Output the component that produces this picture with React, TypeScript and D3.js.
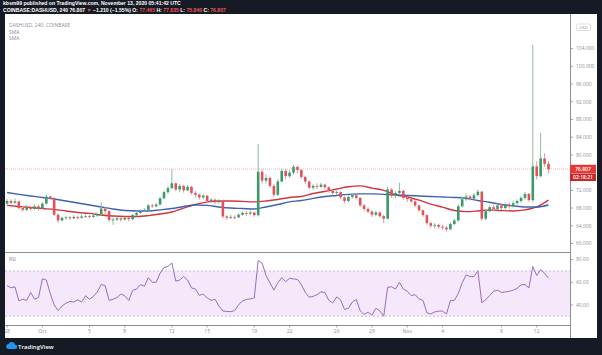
import React from "react";
import * as d3 from "d3";

// 8h candles starting Sep 28 00:00 (day 0)
const firstOpen = 69.0;
const closes = [
  69.6, 69.2, 69.5, 68.0, 67.6, 68.2, 67.8, 68.4, 67.9, 69.0,
  70.6, 70.2, 66.5, 65.2, 65.8, 65.9, 65.7, 66.0, 65.8, 66.1,
  66.2, 66.0, 66.3, 66.6, 67.9, 67.3, 65.3, 65.4, 65.7, 65.4,
  65.8, 65.5, 66.4, 66.9, 67.4, 67.6, 68.6, 68.4, 68.8, 70.2,
  71.6, 72.5, 73.6, 72.2, 73.0, 72.0, 72.8, 71.4, 71.0, 70.4,
  70.8, 69.6, 69.9, 69.3, 69.7, 66.1, 65.8, 66.0, 65.9, 66.5,
  66.9, 66.7, 67.0, 66.4, 76.2, 74.2, 74.8, 73.0, 71.0, 74.0,
  76.4, 75.2, 76.0, 77.3, 76.6, 75.0, 74.0, 72.6, 73.0, 72.8,
  73.3, 72.7, 71.9, 71.4, 71.6, 70.4, 69.6, 70.5, 70.9, 70.3,
  68.6, 67.8, 67.2, 66.5, 67.0, 66.2, 65.6, 72.2, 70.8, 71.4,
  71.9, 70.3, 70.0, 69.5, 68.6, 67.5, 66.4, 64.6, 64.0, 64.2,
  63.8, 63.6, 63.2, 64.4, 65.2, 68.4, 70.0, 70.6, 70.1, 70.9,
  71.7, 65.6, 67.3, 68.2, 67.8, 68.6, 68.0, 68.8, 68.4, 69.1,
  69.6, 70.3, 71.2, 69.8, 77.4, 75.2, 79.2, 78.0, 76.807,
];
const highs = [
  70.0, 70.0, 70.1, 69.6, 68.5, 68.7, 68.6, 68.9, 68.7, 69.3,
  71.0, 70.9, 70.5, 66.8, 66.0, 66.3, 66.2, 66.4, 66.3, 66.5,
  66.6, 66.5, 66.8, 67.0, 69.3, 68.2, 67.6, 65.9, 66.0, 65.9,
  66.1, 66.0, 66.7, 67.3, 67.7, 68.0, 68.9, 68.9, 69.1, 70.5,
  72.0, 73.0, 76.8, 73.8, 73.4, 73.3, 73.2, 73.0, 71.8, 71.3,
  71.1, 70.9, 70.3, 70.1, 70.0, 69.9, 66.4, 66.5, 66.4, 66.8,
  67.2, 67.3, 67.4, 67.2, 82.5, 76.8, 75.6, 75.2, 73.4, 74.5,
  76.9, 76.8, 76.5, 77.8, 77.6, 76.8, 75.3, 74.2, 73.4, 73.6,
  73.7, 73.5, 72.9, 72.2, 72.0, 71.8, 70.6, 70.9, 71.2, 71.1,
  70.5, 68.9, 68.2, 67.6, 67.4, 67.2, 66.5, 72.8, 72.5, 71.8,
  73.7, 72.1, 70.6, 70.3, 69.7, 68.8, 67.7, 66.6, 64.9, 64.6,
  64.5, 64.2, 64.0, 64.8, 65.6, 68.8, 70.6, 71.3, 71.0, 71.4,
  72.2, 71.9, 67.8, 68.6, 68.8, 69.0, 69.1, 69.2, 69.2, 69.6,
  70.0, 70.7, 71.6, 71.4, 104.9, 78.6, 85.0, 80.4, 78.6,
];
const lows = [
  68.6, 68.8, 68.9, 67.7, 67.2, 67.3, 67.4, 67.6, 67.4, 67.8,
  68.8, 69.8, 66.2, 64.6, 65.0, 65.4, 65.3, 65.5, 65.4, 65.6,
  65.8, 65.6, 65.8, 66.0, 66.4, 66.5, 64.9, 64.2, 65.0, 64.9,
  65.2, 65.0, 65.3, 66.2, 66.7, 67.1, 67.5, 68.0, 68.2, 68.6,
  70.0, 71.2, 72.3, 71.8, 71.6, 71.5, 71.8, 71.0, 70.4, 69.9,
  70.0, 69.2, 69.2, 68.9, 69.0, 65.7, 65.3, 65.5, 65.4, 65.7,
  66.3, 66.2, 66.5, 66.0, 66.1, 73.5, 73.6, 72.5, 70.5, 70.8,
  73.8, 74.5, 74.8, 75.6, 75.9, 74.6, 73.5, 72.2, 72.1, 72.3,
  72.5, 72.2, 71.5, 71.0, 70.9, 70.0, 69.1, 69.4, 70.1, 69.9,
  68.2, 67.4, 66.8, 66.0, 66.1, 65.7, 64.6, 65.4, 70.3, 70.2,
  70.9, 69.9, 69.3, 69.1, 68.2, 67.1, 66.0, 64.2, 63.5, 63.4,
  63.3, 63.1, 62.7, 63.0, 64.1, 64.9, 68.1, 69.6, 69.7, 69.9,
  70.6, 65.1, 65.3, 67.0, 67.3, 67.5, 67.6, 67.7, 67.9, 68.1,
  68.8, 69.2, 69.9, 69.4, 69.3, 74.4, 74.9, 77.3, 75.8,
];
const rsiValues = [
  57, 55, 56, 43.6, 45, 44, 51, 45, 46.6, 63,
  62, 50, 40, 35, 39, 41.5, 43, 42.5, 44.5, 42.5,
  48, 45, 47.5, 51.5, 58, 57, 44, 45, 46.5, 49.6,
  48, 44, 52.8, 54, 58, 56.5, 64, 60, 60, 68,
  73, 74, 77, 61, 62, 65, 62, 55, 54, 48.5,
  49.5, 46.2, 44, 45, 39, 34.6, 34.2, 34, 35, 40,
  43.5, 44.8, 45.3, 46.2, 79, 77, 66, 59.5, 53, 59.5,
  64, 60.5, 63.5, 63, 62.5, 58, 51, 46.8, 47.5, 49,
  51.5, 51, 44, 41.7, 47, 44.5, 36, 37, 42.5, 44.8,
  35, 31.6, 33.5, 31, 37, 34.8, 30, 55.5, 56, 54,
  60, 54, 52, 48.2, 49, 45.3, 44, 33, 32, 33.8,
  34.5, 34.5, 32, 43.8, 44, 50, 59.5, 66.5, 65, 65,
  70, 42, 44.5, 48.3, 52, 53, 51, 51.5, 52, 53,
  54.6, 57.7, 58, 55, 74, 66, 71, 68, 63.5,
];
// daily samples (day 0..46)
const smaRed = [
  68.6, 68.36, 68.14, 67.9, 67.7, 67.35, 67.0, 66.8, 66.44, 66.2,
  66.1, 66.1, 66.3, 66.67, 67.1, 68.0, 68.8, 69.4, 69.6, 69.6,
  69.5, 69.4, 69.6, 69.94, 70.4, 70.6, 71.3, 71.75, 72.3, 72.8,
  73.0, 72.5, 72.0, 71.0, 70.5, 69.8, 68.9, 68.2, 67.45, 67.2,
  67.35, 67.6, 67.45, 67.35, 67.6, 68.25, 69.8,
];
const smaBlue = [
  71.5, 71.1, 70.73, 70.4, 70.06, 69.6, 69.15, 68.7, 68.25, 67.8,
  67.45, 67.35, 67.35, 67.6, 67.9, 68.36, 68.7, 68.6, 68.25, 68.0,
  67.9, 67.8, 68.25, 68.8, 69.4, 69.7, 70.2, 70.6, 70.85, 71.1,
  71.2, 71.2, 71.1, 71.0, 70.85, 70.73, 70.6, 70.5, 70.4, 70.2,
  69.7, 69.3, 68.8, 68.5, 68.25, 68.25, 68.7,
];
const priceTicks = [104, 100, 96, 92, 88, 84, 80, 72, 68, 64, 60];
const rsiTicks = [80, 60, 40];
const timeTickDays = [0, 3, 7, 10, 14, 17, 21, 24, 28, 31, 34, 37, 42, 45];
const timeTickLabels = ["28", "Oct", "5", "8", "12", "15", "19", "22", "26", "29", "Nov", "4", "9", "12"];
const lastPrice = 76.807;

const W = 602, H = 355;
const FRAME = "#161a24";
const GREEN = "#3b9a68";
const RED = "#e0525a";
const FONT = "'Open Sans', 'Noto Sans', sans-serif";
const HFONT = "'Liberation Sans', Arial, sans-serif";

export default function App() {
  const x = d3.scaleLinear().domain([0, 46]).range([7.1, 548.5]);
  const y = d3.scaleLinear().domain([60, 104]).range([243.5, 48.6]);
  const yR = d3.scaleLinear().domain([40, 80]).range([304.9, 259.6]);
  const step = 1 / 3;

  const lineP = d3.line<number>().x((_, i) => x(i)).y((v) => y(v)).curve(d3.curveMonotoneX);
  const lineR = d3.line<number>().x((_, i) => x(i * step)).y((v) => yR(v));

  const candles = closes.map((c, i) => {
    const o = i === 0 ? firstOpen : closes[i - 1];
    const up = c >= o;
    const cx = x(i * step);
    const top = y(Math.max(o, c));
    const bot = y(Math.min(o, c));
    return (
      <g key={i}>
        <line x1={cx} x2={cx} y1={y(highs[i])} y2={y(lows[i])} stroke={up ? "#8fb8a0" : "#e29a9a"} strokeWidth={1} />
        <rect x={cx - 1.3} width={2.6} y={top} height={Math.max(0.8, bot - top)} fill={up ? GREEN : RED} />
      </g>
    );
  });

  const py = y(lastPrice);

  return (
    <div style={{ position: "fixed", left: 0, top: 0, width: W, height: H }}>
      <svg width={W} height={H} style={{ display: "block", fontFamily: FONT }}>
        <defs>
          <clipPath id="mainClip"><rect x={5} y={14} width={565} height={238} /></clipPath>
          <clipPath id="rsiClip"><rect x={5} y={253} width={565} height={72} /></clipPath>
        </defs>
        <rect x={0} y={0} width={W} height={H} fill={FRAME} />
        <rect x={5} y={14} width={592} height={324} fill="#ffffff" />

        {/* header */}
        <text x={3} y={5.3} fontSize={5.1} fill="#ffffff" fontWeight={700} fontFamily={HFONT}>kbsm99 published on TradingView.com, November 13, 2020 05:41:42 UTC</text>
        <text x={3} y={11.9} fontSize={5.1} fill="#ffffff" fontWeight={700} fontFamily={HFONT}>
          COINBASE:DASHUSD, 240 76.807 <tspan fill="#ef5350">▼</tspan> −1.210 (−1.55%) O: <tspan fill="#ef5350">77.465</tspan> H: <tspan fill="#ef5350">77.835</tspan> L: <tspan fill="#ef5350">75.840</tspan> C: <tspan fill="#ef5350">76.807</tspan>
        </text>

        {/* legend */}
        <text x={9} y={27} fontSize={5} fill="#8a8e99">DASHUSD, 240, COINBASE</text>
        <text x={9} y={33.5} fontSize={5} fill="#8a8e99">SMA</text>
        <text x={9} y={40} fontSize={5} fill="#8a8e99">SMA</text>

        {/* main pane */}
        <g clipPath="url(#mainClip)">
          <line x1={5} x2={570} y1={py} y2={py} stroke="#ef9a9a" strokeWidth={0.8} strokeDasharray="1 1" />
          <path d={lineP(smaRed) || ""} fill="none" stroke="#d0343f" strokeWidth={1.4} />
          <path d={lineP(smaBlue) || ""} fill="none" stroke="#3d62b3" strokeWidth={1.4} />
          {candles}
        </g>

        {/* pane separators */}
        <line x1={5} x2={570} y1={252.5} y2={252.5} stroke="#8c8f96" strokeWidth={1} />
        <line x1={5} x2={570} y1={325.5} y2={325.5} stroke="#8c8f96" strokeWidth={1} />
        <line x1={570.5} x2={570.5} y1={14} y2={338} stroke="#8c8f96" strokeWidth={1} />

        {/* RSI pane */}
        <g clipPath="url(#rsiClip)">
          <rect x={5} y={yR(70)} width={565} height={yR(30) - yR(70)} fill="#f5e8fb" />
          <line x1={5} x2={570} y1={yR(70)} y2={yR(70)} stroke="#c7a6d9" strokeWidth={0.8} strokeDasharray="2 2" />
          <line x1={5} x2={570} y1={yR(30)} y2={yR(30)} stroke="#c7a6d9" strokeWidth={0.8} strokeDasharray="2 2" />
          <path d={lineR(rsiValues) || ""} fill="none" stroke="#9b6cc0" strokeWidth={1} />
        </g>
        <text x={9} y={261} fontSize={5} fill="#8a8e99">RSI</text>

        {/* price axis */}
        {priceTicks.map((t) => (
          <g key={t}>
            <line x1={570} x2={573} y1={y(t)} y2={y(t)} stroke="#8c8f96" strokeWidth={0.8} />
            <text x={576} y={y(t) + 1.8} fontSize={5} fill="#8a8e99">{t.toFixed(3)}</text>
          </g>
        ))}
        {rsiTicks.map((t) => (
          <g key={"r" + t}>
            <line x1={570} x2={573} y1={yR(t)} y2={yR(t)} stroke="#8c8f96" strokeWidth={0.8} />
            <text x={576} y={yR(t) + 1.8} fontSize={5} fill="#8a8e99">{t.toFixed(2)}</text>
          </g>
        ))}
        <rect x={576.5} y={24} width={14} height={6.5} rx={1.5} fill="#ffffff" stroke="#c4c6cc" strokeWidth={0.6} />
        <text x={583.5} y={28.9} fontSize={4.2} fill="#8a8e99" textAnchor="middle">USD</text>

        {/* last price labels */}
        <rect x={570} y={py - 4.3} width={26} height={8.4} fill="#e53935" />
        <text x={583} y={py + 1.8} fontSize={5} fill="#ffffff" textAnchor="middle" fontWeight={600}>76.807</text>
        <rect x={570} y={py + 4.4} width={26} height={7.6} fill="#c62828" />
        <text x={583} y={py + 10} fontSize={5} fill="#ffffff" textAnchor="middle" fontWeight={600}>02:18:21</text>

        {/* time axis */}
        {timeTickDays.map((d, i) => (
          <g key={"t" + d}>
            <line x1={x(d)} x2={x(d)} y1={325.5} y2={327.5} stroke="#8c8f96" strokeWidth={0.8} />
            <text x={x(d)} y={332.5} fontSize={5} fill="#8a8e99" textAnchor="middle">{timeTickLabels[i]}</text>
          </g>
        ))}

        {/* frame edges drawn over */}
        <rect x={0} y={14} width={5} height={324} fill={FRAME} />
        <rect x={597} y={14} width={5} height={324} fill={FRAME} />
        <rect x={0} y={338} width={W} height={17} fill={FRAME} />

        {/* TradingView logo */}
        <g transform="translate(6,342)">
          <path d="M2 7 a2.6 2.6 0 0 1 0.6 -5.1 a3.4 3.4 0 0 1 6.4 0.9 a2.1 2.1 0 0 1 0.4 4.2 Z" fill="#2196f3" />
          <text x={12} y={6.5} fontSize={6} fill="#ffffff" fontWeight={600}>TradingView</text>
        </g>
      </svg>
    </div>
  );
}
